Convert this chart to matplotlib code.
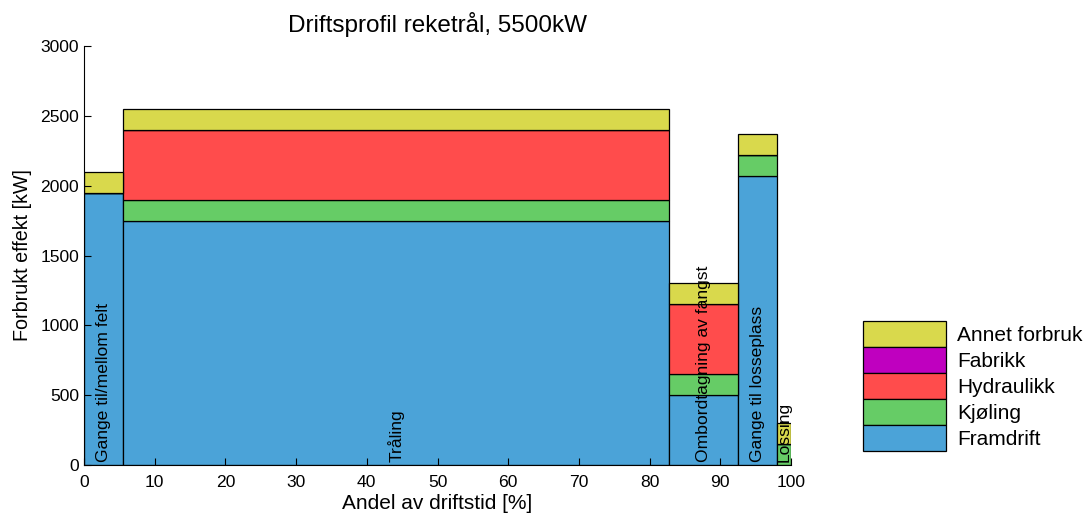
import matplotlib
matplotlib.use("Agg")
import matplotlib.pyplot as plt
import numpy as np

plt.rcParams['font.family'] = ['Liberation Sans', 'DejaVu Sans']

modes = ["Gange til/mellom felt", "Tråling", "Ombordtagning av fangst",
         "Gange til losseplass", "Lossing"]
durations = [5.5, 77.2, 9.8, 5.5, 2.0]  # % of operating time

framdrift = [1950, 1750, 500, 2070, 0]
kjoling = [0, 150, 150, 150, 150]
hydraulikk = [0, 500, 500, 0, 0]
fabrikk = [0, 0, 0, 0, 0]
annet = [150, 150, 150, 150, 150]

series = [("Framdrift", framdrift, "#4ba3d8"),
          ("Kjøling", kjoling, "#66cc66"),
          ("Hydraulikk", hydraulikk, "#ff4c4c"),
          ("Fabrikk", fabrikk, "#bf00bf"),
          ("Annet forbruk", annet, "#d9d94c")]

xticks = list(range(0, 101, 10))
yticks = list(range(0, 3001, 500))

fig = plt.figure(figsize=(10.9, 5.13), dpi=100)
ax = fig.add_axes([84/1090, 48/513, (791-84)/1090, (465-46)/513])

dur = np.array(durations)
lefts = np.concatenate([[0], np.cumsum(dur)[:-1]])
bottom = np.zeros(len(dur))
handles = []
for name, vals, col in series:
    v = np.array(vals, dtype=float)
    b = ax.bar(lefts, v, width=dur, bottom=bottom, align='edge', color=col,
               edgecolor='black', linewidth=0.9, label=name)
    handles.append(b)
    bottom = bottom + v

for l, d, m in zip(lefts, dur, modes):
    ax.text(l + d/2, 20, m, rotation=90, ha='center', va='bottom', fontsize=12.6)

ax.set_xlim(0, 100)
ax.set_ylim(0, 3000)
ax.set_xticks(xticks)
ax.set_yticks(yticks)
ax.tick_params(direction='in', length=5, labelsize=12.6, width=0.8)
ax.tick_params(axis='x', pad=7)
ax.spines['top'].set_visible(False)
ax.spines['right'].set_visible(False)
ax.set_xlabel("Andel av driftstid [%]", fontsize=15, labelpad=3)
ax.set_ylabel("Forbrukt effekt [kW]", fontsize=14.2, labelpad=6)
ax.set_title("Driftsprofil reketrål, 5500kW", fontsize=17.5, pad=10)

leg = fig.legend(handles=handles[::-1], labels=[s[0] for s in series][::-1],
                 loc='upper left', bbox_to_anchor=(863/1090, 1 - 321/513),
                 frameon=False, fontsize=15, handlelength=4.0, handleheight=1.55,
                 labelspacing=0, handletextpad=0.53, borderpad=0, borderaxespad=0)

fig.savefig("out.png", dpi=100)
